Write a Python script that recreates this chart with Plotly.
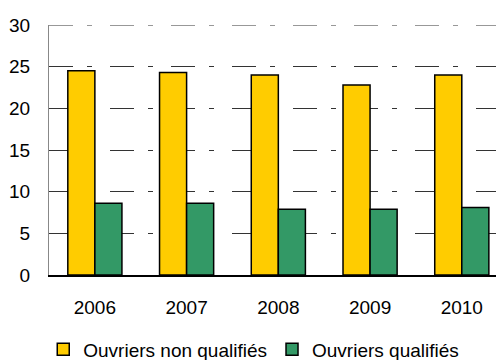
import plotly.graph_objects as go

years = ["2006", "2007", "2008", "2009", "2010"]
non_qualifies = [24.5, 24.3, 24.0, 22.8, 24.0]
qualifies = [8.6, 8.6, 7.9, 7.9, 8.1]
y_ticks = [0, 5, 10, 15, 20, 25, 30]
y_max = 30

font = dict(family="Liberation Sans, Arial, sans-serif", size=19, color="#000000")
grid_dash = "24px,14px,5px,18px"
grid_color = "#333333"

fig = go.Figure()
fig.add_bar(x=years, y=non_qualifies, name="Ouvriers non qualifiés",
            marker=dict(color="#FFCC00", line=dict(color="#000000", width=1.5)))
fig.add_bar(x=years, y=qualifies, name="Ouvriers qualifiés",
            marker=dict(color="#339966", line=dict(color="#000000", width=1.5)))

# top gridline (plotly omits gridlines at the edge of the range)
fig.add_shape(type="line", xref="paper", yref="y", x0=0, x1=1, y0=y_max, y1=y_max,
              line=dict(color=grid_color, width=1, dash=grid_dash), layer="below")

fig.update_layout(
    width=496, height=352,
    margin=dict(l=41, r=0, t=17, b=85, autoexpand=False),
    paper_bgcolor="white", plot_bgcolor="white",
    barmode="group", bargap=0.41, bargroupgap=0,
    font=font,
    showlegend=True,
    legend=dict(orientation="h", x=0.45, xanchor="center", y=-0.298, yanchor="middle",
                font=font, itemwidth=30, tracegroupgap=0, traceorder="normal"),
    xaxis=dict(type="category", range=[-0.5, 4.46], showgrid=False, automargin=False,
               showline=True, linecolor="#000000", linewidth=1.5,
               ticks="", ticklabelstandoff=14, tickfont=font, fixedrange=True),
    yaxis=dict(range=[0, y_max], tickvals=y_ticks, showgrid=True, automargin=False,
               gridcolor=grid_color, gridwidth=1, griddash=grid_dash,
               showline=True, linecolor="#888888", linewidth=1,
               zeroline=False, ticks="", ticklabelstandoff=14, tickfont=font),
)

fig.write_html("out.html")
